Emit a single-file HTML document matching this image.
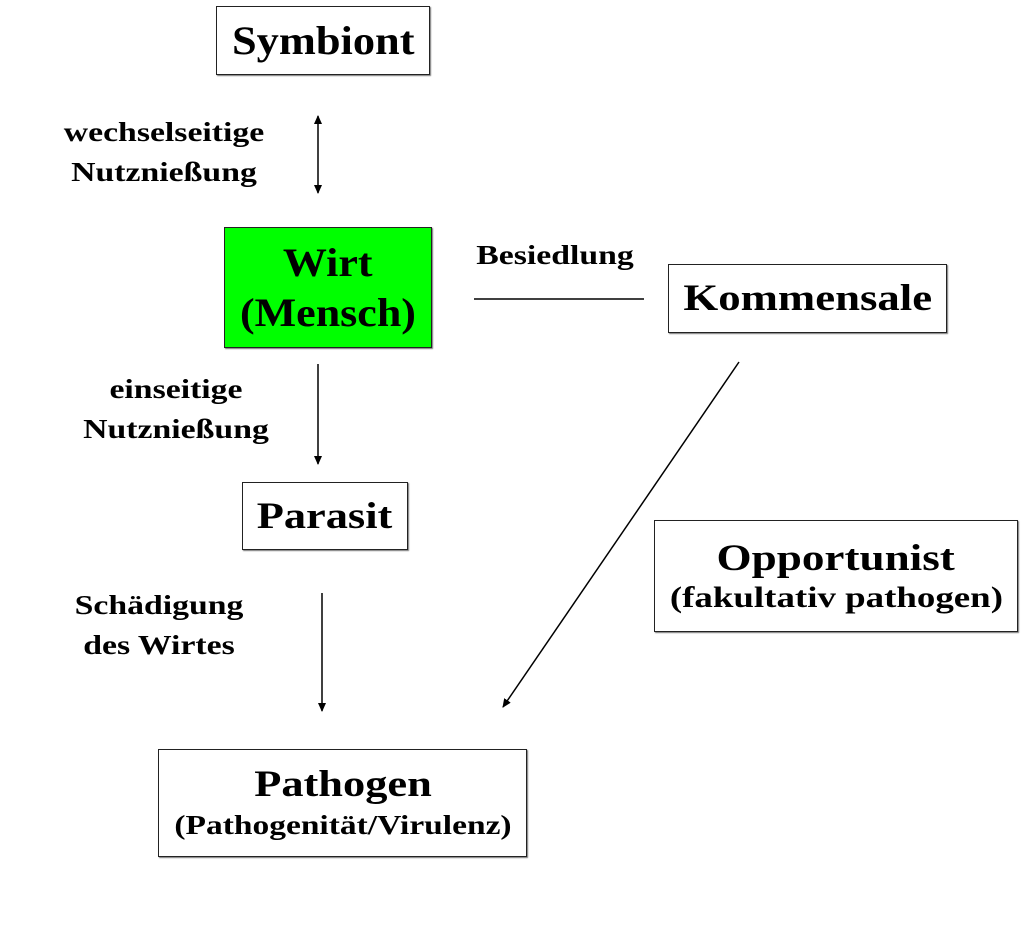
<!DOCTYPE html>
<html><head><meta charset="utf-8"><style>
body{margin:0;width:1024px;height:926px;background:#fff;position:relative;overflow:hidden;font-family:"Liberation Serif",serif;font-weight:bold;color:#000}
.b{position:absolute;border:1.5px solid #222;box-sizing:border-box;display:flex;flex-direction:column;align-items:center;justify-content:center;text-align:center;box-shadow:1px 1px 1px #777}
.s{display:inline-block;white-space:nowrap}
.t{position:absolute;font-size:27px;text-align:center;line-height:40px;transform:translateX(-50%) scaleX(1.25);white-space:nowrap}
</style></head><body>
<svg width="1024" height="926" style="position:absolute;left:0;top:0">
<defs><marker id="a" markerWidth="10" markerHeight="10" refX="8" refY="5" orient="auto-start-reverse" markerUnits="userSpaceOnUse"><path d="M0,1 L9,5 L0,9z" fill="#000"/></marker></defs>
<g stroke="#000" stroke-width="1.5">
<line x1="318" y1="116" x2="318" y2="193" marker-start="url(#a)" marker-end="url(#a)"/>
<line x1="474" y1="299" x2="644" y2="299"/>
<line x1="318" y1="364" x2="318" y2="464" marker-end="url(#a)"/>
<line x1="322" y1="593" x2="322" y2="711" marker-end="url(#a)"/>
<line x1="739" y1="362" x2="503" y2="707" marker-end="url(#a)"/>
</g></svg>
<div class="b" style="left:216px;top:6px;width:214px;height:69px;font-size:40px"><span class="s" style="transform:scaleX(1.11)">Symbiont</span></div>
<div class="b" style="left:224px;top:227px;width:208px;height:121px;background:#00ff00;font-size:40px;line-height:50px"><span class="s" style="transform:scaleX(1.1)">Wirt</span><span class="s" style="transform:scaleX(1.1)">(Mensch)</span></div>
<div class="b" style="left:668px;top:264px;width:279px;height:69px;font-size:37px"><span class="s" style="transform:scaleX(1.21)">Kommensale</span></div>
<div class="b" style="left:242px;top:482px;width:166px;height:68px;font-size:37px"><span class="s" style="transform:scaleX(1.2)">Parasit</span></div>
<div class="b" style="left:654px;top:520px;width:364px;height:112px;font-size:37px;line-height:44px"><span class="s" style="transform:scaleX(1.22)">Opportunist</span><span class="s" style="font-size:30px;line-height:34px;transform:scaleX(1.23)">(fakultativ pathogen)</span></div>
<div class="b" style="left:158px;top:749px;width:369px;height:108px;font-size:37px;line-height:44px"><span class="s" style="transform:scaleX(1.2)">Pathogen</span><span class="s" style="font-size:27px;line-height:36px;transform:scaleX(1.24)">(Pathogenität/Virulenz)</span></div>
<div class="t" style="left:164px;top:112px">wechselseitige<br>Nutznießung</div>
<div class="t" style="left:555px;top:235px">Besiedlung</div>
<div class="t" style="left:176px;top:369px">einseitige<br>Nutznießung</div>
<div class="t" style="left:159px;top:585px">Schädigung<br>des Wirtes</div>
</body></html>
